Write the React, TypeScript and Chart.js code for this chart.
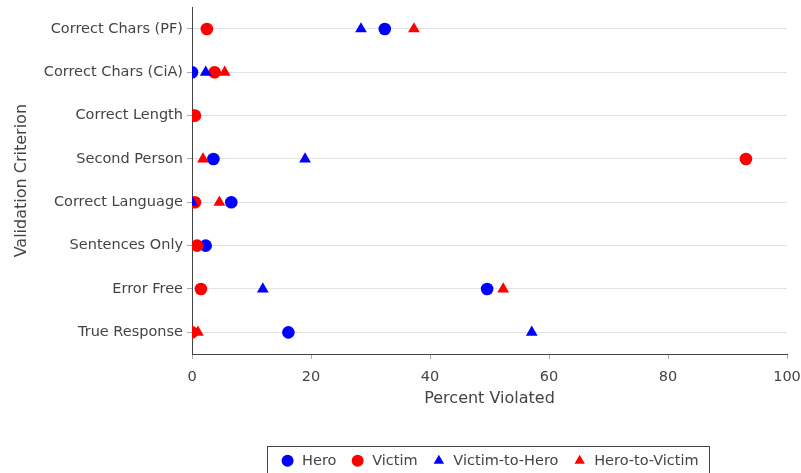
import React, { useEffect, useRef } from "react";
import { Chart, registerables } from "chart.js";

Chart.register(...registerables);

const categories = [
  "Correct Chars (PF)",
  "Correct Chars (CiA)",
  "Correct Length",
  "Second Person",
  "Correct Language",
  "Sentences Only",
  "Error Free",
  "True Response",
];

const heroValues = [32.4, 0, 0, 3.6, 6.6, 2.3, 49.6, 16.2];
const victimValues = [2.5, 3.8, 0.5, 93.1, 0.5, 0.85, 1.5, 0];
const victimToHeroValues: (number | null)[] = [28.4, 2.3, null, 19.0, 0, null, 11.9, 57.1];
const heroToVictimValues: (number | null)[] = [37.3, 5.5, null, 1.85, 4.6, null, 52.3, 1.0];

const xTicks = [0, 20, 40, 60, 80, 100];

const FONT = "'DejaVu Sans', Verdana, sans-serif";
const TEXT = "#444";
const LEGEND_PAD = 14;
const CANVAS_H = 478;

function toPoints(values: (number | null)[]) {
  const pts: { x: number; y: string }[] = [];
  values.forEach((v, i) => {
    if (v !== null) pts.push({ x: v, y: categories[i] });
  });
  return pts;
}

const legendBorder = {
  id: "legendBorder",
  afterDraw(chart: any) {
    const lg = chart.legend;
    if (!lg || !lg.legendHitBoxes || !lg.legendHitBoxes.length) return;
    const hb = lg.legendHitBoxes;
    const first = hb[0];
    const last = hb[hb.length - 1];
    const cy = first.top + first.height / 2;
    const x1 = Math.round(first.left + 4.25 - 18) + 0.5;
    const x2 = Math.round(last.left + last.width + 10) + 0.5;
    const y1 = Math.round(cy - 14.5) + 0.5;
    const y2 = Math.round(cy + 16) + 0.5;
    const ctx = chart.ctx;
    ctx.save();
    ctx.strokeStyle = TEXT;
    ctx.lineWidth = 1;
    ctx.strokeRect(x1, y1, x2 - x1, y2 - y1);
    ctx.restore();
  },
};

export default function App() {
  const ref = useRef<HTMLCanvasElement | null>(null);

  useEffect(() => {
    if (!ref.current) return;
    const mk = (
      label: string,
      values: (number | null)[],
      color: string,
      style: string,
      radius: number,
      order: number
    ) => ({
      label,
      data: toPoints(values),
      backgroundColor: color,
      borderColor: color,
      pointStyle: style,
      pointRadius: radius,
      pointHoverRadius: radius,
      pointBorderWidth: 0,
      borderWidth: 0,
      showLine: false,
      order,
    });
    const chart = new Chart(ref.current, {
      type: "scatter",
      data: {
        datasets: [
          mk("Hero", heroValues, "#0000ff", "circle", 6.3, 4),
          mk("Victim", victimValues, "#ff0000", "circle", 6.3, 3),
          mk("Victim-to-Hero", victimToHeroValues, "#0000ff", "triangle", 6.8, 2),
          mk("Hero-to-Victim", heroToVictimValues, "#ff0000", "triangle", 6.8, 1),
        ] as any,
      },
      options: {
        animation: false,
        responsive: false,
        devicePixelRatio: 1,
        layout: { padding: { top: 7.3, right: 14, left: 0, bottom: 0 } },
        plugins: {
          tooltip: { enabled: false },
          legend: {
            position: "bottom",
            fullSize: false,
            labels: {
              usePointStyle: true,
              boxHeight: 8.5,
              padding: LEGEND_PAD,
              color: TEXT,
              font: { family: FONT, size: 14.5 },
              sort: (a: any, b: any) => a.datasetIndex - b.datasetIndex,
              generateLabels: (chart: any) =>
                chart.data.datasets.map((ds: any, i: number) => ({
                  text: ds.label,
                  fillStyle: ds.backgroundColor,
                  strokeStyle: ds.backgroundColor,
                  lineWidth: 0,
                  pointStyle: ds.pointStyle,
                  fontColor: TEXT,
                  hidden: false,
                  datasetIndex: i,
                })),
            },
          },
        },
        scales: {
          x: {
            type: "linear",
            min: 0,
            max: 100,
            afterFit: (s: any) => {
              s.height = CANVAS_H - (24.5 + LEGEND_PAD) - 354;
              s.paddingLeft = 0;
              s.paddingRight = 0;
            },
            afterBuildTicks: (s: any) => {
              s.ticks = xTicks.map((v) => ({ value: v }));
            },
            ticks: {
              color: TEXT,
              font: { family: FONT, size: 14.5 },
              padding: 10,
              maxRotation: 0,
            },
            grid: {
              drawOnChartArea: false,
              drawTicks: true,
              tickLength: 5,
              tickColor: "#aaaaaa",
            },
            border: { color: TEXT, width: 1 },
            title: {
              display: true,
              text: "Percent Violated",
              color: TEXT,
              font: { family: FONT, size: 16 },
              padding: { top: 4, bottom: 30.6 },
            },
          },
          y: {
            type: "category",
            labels: categories,
            offset: true,
            afterFit: (s: any) => {
              s.width = 192;
              s.paddingTop = 0;
              s.paddingBottom = 0;
            },
            ticks: {
              color: TEXT,
              font: { family: FONT, size: 14.5 },
              padding: 4,
            },
            grid: {
              offset: false,
              color: "#e2e2e2",
              drawTicks: true,
              tickLength: 5,
              tickColor: "#aaaaaa",
            },
            border: { color: TEXT, width: 1 },
            title: {
              display: true,
              text: "Validation Criterion",
              color: TEXT,
              font: { family: FONT, size: 16 },
              padding: { top: 12.4, bottom: 8 },
            },
          },
        },
      },
      plugins: [legendBorder],
    } as any);
    return () => chart.destroy();
  }, []);

  return (
    <div style={{ position: "fixed", left: 0, top: 0, width: 801, height: CANVAS_H }}>
      <canvas ref={ref} width={801} height={CANVAS_H} style={{ display: "block" }} />
    </div>
  );
}
